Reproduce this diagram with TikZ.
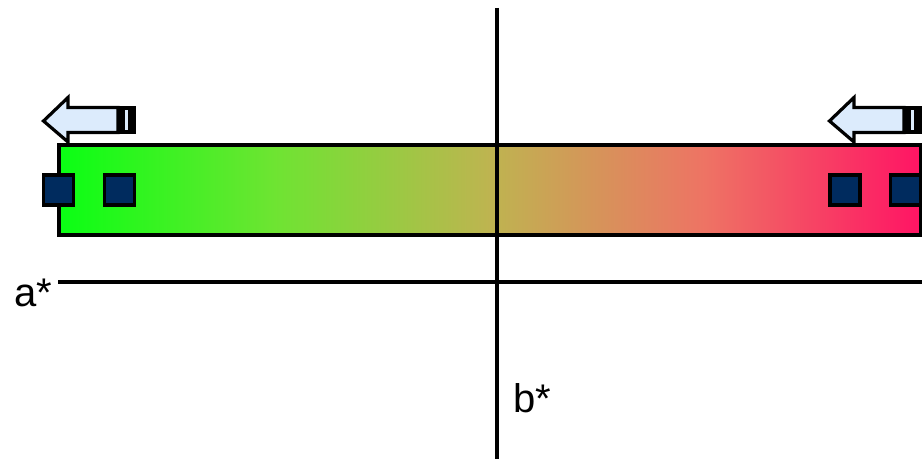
\documentclass[tikz,border=0pt]{standalone}
\usepackage{fontspec}
\setmainfont{Liberation Sans}
\definecolor{gA}{RGB}{10,255,20}
\definecolor{gB}{RGB}{110,228,50}
\definecolor{gC}{RGB}{190,180,80}
\definecolor{gD}{RGB}{238,115,100}
\definecolor{gE}{RGB}{255,20,100}
\definecolor{navy}{RGB}{0,43,94}
\definecolor{arrowblue}{RGB}{220,235,252}
\pgfdeclarehorizontalshading{bargrad}{100bp}{color(0bp)=(gA); color(25bp)=(gA); color(37.5bp)=(gB); color(50bp)=(gC); color(62.5bp)=(gD); color(75bp)=(gE); color(100bp)=(gE)}
\tikzset{
  outline/.style={draw=black, line width=2.4},
  sq/.style={outline, fill=navy},
  axis/.style={draw=black, line width=2.8},
  lbl/.style={font=\fontsize{30pt}{36pt}\selectfont, inner sep=0pt, anchor=base west},
  blockarrow/.pic={
    \draw[outline, fill=arrowblue, line join=miter]
      (43.5,121) -- (68,97.5) -- (68,107.5) -- (118,107.5) -- (118,132.5)
      -- (68,132.5) -- (68,142) -- cycle;
    \fill[black] (117,106) rectangle (136,134);
    \fill[arrowblue] (124.5,110) rectangle (127.5,130);
  }
}
\begin{document}
\begin{tikzpicture}[x=0.75pt,y=-0.75pt]
\useasboundingbox (0,0) rectangle (922,459);
% gradient bar
\path[shading=bargrad] (59,145) rectangle (920.5,235);
\draw[outline] (59,145) rectangle (920.5,235);
% axes
\coordinate (vtop) at (497,8);
\coordinate (vbot) at (497,462);
\coordinate (hleft) at (58,282);
\coordinate (hright) at (925,282);
\draw[axis] (vtop) -- (vbot);
\draw[axis] (hleft) -- (hright);
\node[lbl] (alabel) at (14,307) {a*};
\node[lbl] (blabel) at (513,413) {b*};
% squares
\draw[sq] (43.5,175) rectangle (73.5,205);
\draw[sq] (104.5,175) rectangle (134.5,205);
\draw[sq] (830,175) rectangle (860,205);
\draw[sq] (890.5,175) rectangle (920.5,205);
% arrows
\pic (arrowL) at (0,0) {blockarrow};
\pic (arrowR) at (786,0) {blockarrow};
\end{tikzpicture}
\end{document}
